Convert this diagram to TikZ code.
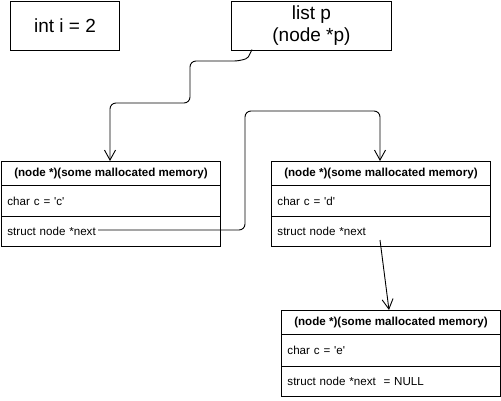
\documentclass[tikz,border=0pt]{standalone}
\usepackage{fontspec}
\setmainfont{Liberation Sans}
\usetikzlibrary{arrows.meta}
\begin{document}
\begin{tikzpicture}[x=1pt,y=-1pt,line width=0.9pt,
  box/.style={draw,rectangle,inner sep=0pt,anchor=north west},
  hdr/.style={box,font=\fontsize{11.6}{13}\selectfont\bfseries,align=center},
  row/.style={box,font=\fontsize{11.6}{13}\selectfont,align=left,text depth=0pt},
  big/.style={draw,rectangle,inner sep=0pt,anchor=north west,font=\fontsize{19}{22}\selectfont,align=center},
  conn/.style={draw,-{Straight Barb[length=10pt,width=11pt,line width=0.9pt]},rounded corners=6pt}]
\useasboundingbox (0,0) rectangle (501,400);
% top boxes
\node[big,minimum width=109pt,minimum height=49pt] (iv) at (10,0.5) {int i = 2};
\node[big,minimum width=160pt,minimum height=49pt] (lp) at (231,0.5) {list p\\(node *p)};
% struct box 1
\node[hdr,minimum width=219pt,minimum height=24pt] (h1) at (1,161) {(node *)(some mallocated memory)};
\node[row,minimum width=219pt,minimum height=31pt,text width=207pt] (c1) at (1,185) {char c = \textquotesingle c\textquotesingle};
\node[row,minimum width=219pt,minimum height=30pt,text width=207pt] (n1) at (1,216) {struct node *next};
% struct box 2
\node[hdr,minimum width=219pt,minimum height=24pt] (h2) at (271,161) {(node *)(some mallocated memory)};
\node[row,minimum width=219pt,minimum height=31pt,text width=207pt] (c2) at (271,185) {char c = \textquotesingle d\textquotesingle};
\node[row,minimum width=219pt,minimum height=30pt,text width=207pt] (n2) at (271,216) {struct node *next};
% struct box 3
\node[hdr,minimum width=219pt,minimum height=24pt] (h3) at (281,310) {(node *)(some mallocated memory)};
\node[row,minimum width=219pt,minimum height=32pt,text width=207pt] (c3) at (281,334) {char c = \textquotesingle e\textquotesingle};
\node[row,minimum width=219pt,minimum height=30pt,text width=207pt] (n3) at (281,366) {struct node *next \ = NULL};
% connectors
\coordinate (s1) at (252,49.5);
\coordinate (s2) at (98,230);
\coordinate (s3) at (380,240);
\path[conn] (s1) .. controls (248,58) .. (240,61) -- (190,61) -- (190,103) -- (110,103) -- (h1.north -| 110,0);
\path[conn] (s2) -- (245,230) -- (245,111) -- (380,111) -- (h2.north -| 380,0);
\path[draw,-{Straight Barb[length=10pt,width=11pt,line width=0.9pt]}] (s3) -- (h3.north -| 389,0);
\end{tikzpicture}
\end{document}
